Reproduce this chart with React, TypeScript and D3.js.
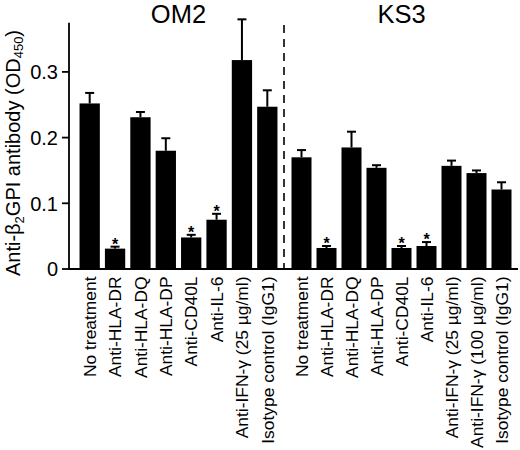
import React from "react";
import * as d3 from "d3";

const groupOM2 = "OM2";
const groupKS3 = "KS3";

const om2Labels = [
  "No treatment",
  "Anti-HLA-DR",
  "Anti-HLA-DQ",
  "Anti-HLA-DP",
  "Anti-CD40L",
  "Anti-IL-6",
  "Anti-IFN-γ (25 µg/ml)",
  "Isotype control (IgG1)",
];
const om2Values = [0.252, 0.031, 0.231, 0.18, 0.048, 0.075, 0.318, 0.247];
const om2Errors = [0.016, 0.003, 0.008, 0.019, 0.004, 0.009, 0.062, 0.025];
const om2Sig = [false, true, false, false, true, true, false, false];

const ks3Labels = [
  "No treatment",
  "Anti-HLA-DR",
  "Anti-HLA-DQ",
  "Anti-HLA-DP",
  "Anti-CD40L",
  "Anti-IL-6",
  "Anti-IFN-γ (25 µg/ml)",
  "Anti-IFN-γ (100 µg/ml)",
  "Isotype control (IgG1)",
];
const ks3Values = [0.17, 0.032, 0.185, 0.154, 0.032, 0.035, 0.157, 0.146, 0.121];
const ks3Errors = [0.011, 0.003, 0.024, 0.004, 0.003, 0.006, 0.008, 0.004, 0.011];
const ks3Sig = [false, true, false, false, true, true, false, false, false];

const yTicks = [0, 0.1, 0.2, 0.3];
const yTickLabels = ["0", "0.1", "0.2", "0.3"];

const FONT = "'Liberation Sans', Arial, Helvetica, sans-serif";

const W = 520;
const H = 450;
const axisX = 69;
const baseY = 269;

const y = d3.scaleLinear().domain([0, 0.375]).range([baseY, baseY - 0.375 * 657]);

const xOM2 = d3
  .scaleBand<number>()
  .domain(d3.range(om2Labels.length))
  .range([77, 280])
  .paddingInner(0.2)
  .paddingOuter(0.1);

const xKS3 = d3
  .scaleBand<number>()
  .domain(d3.range(ks3Labels.length))
  .range([289, 514])
  .paddingInner(0.2)
  .paddingOuter(0.1);

type Group = {
  name: string;
  labels: string[];
  values: number[];
  errors: number[];
  sig: boolean[];
  x: d3.ScaleBand<number>;
};

const groups: Group[] = [
  { name: groupOM2, labels: om2Labels, values: om2Values, errors: om2Errors, sig: om2Sig, x: xOM2 },
  { name: groupKS3, labels: ks3Labels, values: ks3Values, errors: ks3Errors, sig: ks3Sig, x: xKS3 },
];

function Bars({ g }: { g: Group }) {
  const bw = g.x.bandwidth();
  return (
    <g>
      {g.values.map((v, i) => {
        const x0 = g.x(i) as number;
        const cx = x0 + bw / 2;
        const top = y(v);
        const errTop = y(v + g.errors[i]);
        return (
          <g key={i}>
            <line x1={cx} x2={cx} y1={top} y2={errTop} stroke="#000" strokeWidth={2} />
            <line x1={cx - 4.5} x2={cx + 4.5} y1={errTop} y2={errTop} stroke="#000" strokeWidth={2} />
            <rect x={x0} y={top} width={bw} height={baseY - top} fill="#000" />
            {g.sig[i] && (
              <text
                x={cx}
                y={errTop + 3}
                textAnchor="middle"
                fontFamily={FONT}
                fontWeight="bold"
                fontSize={16}
              >
                *
              </text>
            )}
            <text
              transform={`translate(${cx + 6.3},${baseY + 7.5}) rotate(-90)`}
              textAnchor="end"
              fontFamily={FONT}
              fontSize={17.4}
            >
              {g.labels[i]}
            </text>
          </g>
        );
      })}
    </g>
  );
}

export default function App() {
  const titleY = 23;
  const om2Center = ((xOM2(0) as number) + (xOM2(om2Labels.length - 1) as number) + xOM2.bandwidth()) / 2;
  const ks3Center = ((xKS3(0) as number) + (xKS3(ks3Labels.length - 1) as number) + xKS3.bandwidth()) / 2;
  const dividerX = 284;
  return (
    <svg
      width={W}
      height={H}
      viewBox={`0 0 ${W} ${H}`}
      style={{ position: "absolute", left: 0, top: 0, background: "#fff" }}
    >
      <rect x={0} y={0} width={W} height={H} fill="#fff" />
      {/* y axis */}
      <line x1={axisX} x2={axisX} y1={y(0.375)} y2={baseY} stroke="#000" strokeWidth={1.8} />
      {yTicks.map((t, i) => (
        <g key={t}>
          <line x1={axisX - 7} x2={axisX} y1={y(t)} y2={y(t)} stroke="#000" strokeWidth={1.8} />
          <text
            x={axisX - 11}
            y={y(t)}
            dy="0.36em"
            textAnchor="end"
            fontFamily={FONT}
            fontSize={20}
          >
            {yTickLabels[i]}
          </text>
        </g>
      ))}
      {/* y label */}
      <text
        transform={`translate(${19.5},${153}) rotate(-90)`}
        textAnchor="middle"
        fontFamily={FONT}
        fontSize={20}
      >
        Anti-β
        <tspan fontSize={13} dy={4}>2</tspan>
        <tspan dy={-4}>GPI antibody (OD</tspan>
        <tspan fontSize={13} dy={3}>450</tspan>
        <tspan dy={-3}>)</tspan>
      </text>
      {/* divider */}
      <line
        x1={dividerX}
        x2={dividerX}
        y1={25}
        y2={baseY}
        stroke="#000"
        strokeWidth={1.6}
        strokeDasharray="8,6"
      />
      {groups.map((g) => (
        <Bars key={g.name} g={g} />
      ))}
      {/* x baseline */}
      <line x1={axisX} x2={518} y1={baseY} y2={baseY} stroke="#000" strokeWidth={2} />
      {/* titles */}
      <text x={om2Center} y={titleY} textAnchor="middle" fontFamily={FONT} fontSize={25.5}>
        {groupOM2}
      </text>
      <text x={ks3Center} y={titleY} textAnchor="middle" fontFamily={FONT} fontSize={25.5}>
        {groupKS3}
      </text>
    </svg>
  );
}
